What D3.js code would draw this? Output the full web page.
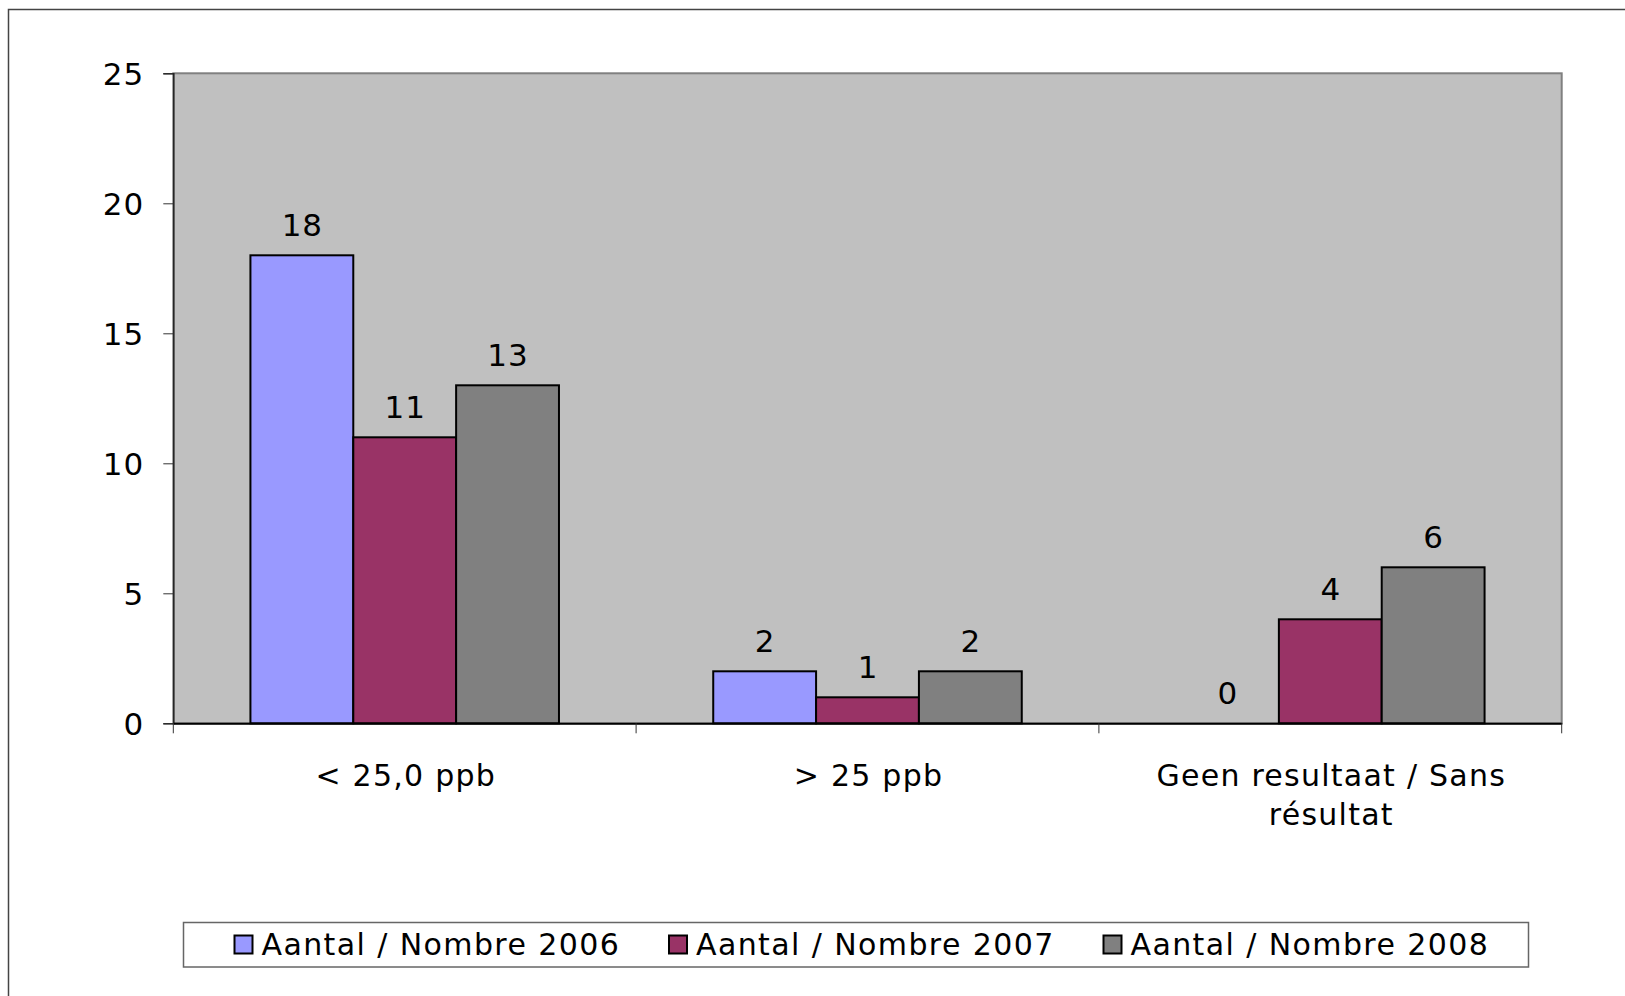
<!DOCTYPE html>
<html>
<head>
<meta charset="utf-8">
<script src="https://cdn.jsdelivr.net/npm/d3@7"></script>
<style>
  html, body { margin: 0; padding: 0; background: #ffffff; }
  svg { display: block; }
  text { font-family: "DejaVu Sans", Verdana, sans-serif; fill: #000; }
</style>
</head>
<body>
<script>
// ---- data ----
const categories = ["< 25,0 ppb", "> 25 ppb", "Geen resultaat / Sans résultat"];
const seriesNames = ["Aantal / Nombre 2006", "Aantal / Nombre 2007", "Aantal / Nombre 2008"];
const values2006 = [18, 2, 0];
const values2007 = [11, 1, 4];
const values2008 = [13, 2, 6];
const seriesColors = ["#9999FF", "#993366", "#808080"];
const yTicks = [0, 5, 10, 15, 20, 25];

const seriesValues = [values2006, values2007, values2008];

const W = 1625, H = 996;
const plot = { left: 173.3, right: 1561.7, top: 73.3, bottom: 723.3 };

const svg = d3.select("body").append("svg").attr("width", W).attr("height", H);

// outer chart border (extends past right/bottom edge)
svg.append("rect")
  .attr("x", 8.5).attr("y", 9.5)
  .attr("width", W + 20).attr("height", H + 20)
  .attr("fill", "#fff").attr("stroke", "#444").attr("stroke-width", 1.5);

const x0 = d3.scaleBand().domain(categories).range([plot.left, plot.right]).paddingInner(0).paddingOuter(0);
const x1 = d3.scaleBand().domain(seriesNames).range([0, x0.bandwidth()]).paddingInner(0).paddingOuter(0.75);
const y = d3.scaleLinear().domain([0, 25]).range([plot.bottom, plot.top]);

// plot area
svg.append("rect")
  .attr("x", plot.left).attr("y", plot.top)
  .attr("width", plot.right - plot.left).attr("height", plot.bottom - plot.top)
  .attr("fill", "#C0C0C0").attr("stroke", "#808080").attr("stroke-width", 2);

// bars
const data = [];
categories.forEach((c, ci) => {
  seriesNames.forEach((s, si) => {
    data.push({ cat: c, series: s, si: si, value: seriesValues[si][ci] });
  });
});

svg.append("g").selectAll("rect")
  .data(data.filter(d => d.value > 0))
  .join("rect")
  .attr("x", d => x0(d.cat) + x1(d.series))
  .attr("y", d => y(d.value))
  .attr("width", x1.bandwidth())
  .attr("height", d => y(0) - y(d.value))
  .attr("fill", d => seriesColors[d.si])
  .attr("stroke", "#000").attr("stroke-width", 2);

// value labels
svg.append("g").selectAll("text")
  .data(data)
  .join("text")
  .attr("x", d => x0(d.cat) + x1(d.series) + x1.bandwidth() / 2 + 0.5)
  .attr("y", d => y(d.value) - 19)
  .attr("text-anchor", "middle")
  .attr("font-size", 31)
  .attr("letter-spacing", 1)
  .text(d => d.value);

// y axis
const yAxis = d3.axisLeft(y).tickValues(yTicks).tickSize(10).tickPadding(19).tickFormat(d3.format("d"));
const gy = svg.append("g").attr("transform", `translate(${plot.left},0)`).call(yAxis);
gy.select(".domain").attr("stroke", "#222").attr("stroke-width", 1.5);
gy.selectAll(".tick line").attr("stroke", "#333").attr("stroke-width", 1);
gy.selectAll(".tick text")
  .attr("font-size", 31).attr("font-family", "DejaVu Sans, Verdana, sans-serif")
  .attr("letter-spacing", 1)
  .attr("fill", "#000").attr("dy", "0.36em");

// x axis
const xAxis = d3.axisBottom(x0).tickSize(0).tickPadding(0).tickFormat("");
const gx = svg.append("g").attr("transform", `translate(0,${plot.bottom})`).call(xAxis);
gx.select(".domain").attr("stroke", "#000").attr("stroke-width", 2);
gx.selectAll(".tick").remove();
// category boundary ticks
const boundaries = categories.map(c => x0(c)).concat([x0(categories[categories.length - 1]) + x0.bandwidth()]);
gx.selectAll("line.bt").data(boundaries).join("line").attr("class", "bt")
  .attr("x1", d => d).attr("x2", d => d).attr("y1", 0).attr("y2", 10)
  .attr("stroke", "#333").attr("stroke-width", 1);

// category labels (wrapped)
const maxW = x0.bandwidth() - 30;
categories.forEach(c => {
  const cx = x0(c) + x0.bandwidth() / 2 + 1;
  const t = svg.append("text")
    .attr("x", cx)
    .attr("y", 786)
    .attr("text-anchor", "middle")
    .attr("font-size", 30)
    .attr("letter-spacing", 1.25);
  const words = c.split(" ");
  let line = [];
  let tspan = t.append("tspan").attr("x", cx).attr("dy", 0);
  words.forEach(w => {
    line.push(w);
    tspan.text(line.join(" "));
    if (tspan.node().getComputedTextLength() > maxW && line.length > 1) {
      line.pop();
      tspan.text(line.join(" "));
      line = [w];
      tspan = t.append("tspan").attr("x", cx).attr("dy", 39).text(w);
    }
  });
});

// legend
svg.append("rect")
  .attr("x", 183.5).attr("y", 922.5).attr("width", 1345).attr("height", 44.5)
  .attr("fill", "#fff").attr("stroke", "#666").attr("stroke-width", 1.5);

const legendX = d3.scalePoint().domain(seriesNames).range([234.5, 1103.5]);
const lg = svg.append("g").selectAll("g").data(seriesNames).join("g")
  .attr("transform", d => `translate(${legendX(d)},0)`);
lg.append("rect")
  .attr("x", 0).attr("y", 935.5).attr("width", 18).attr("height", 18)
  .attr("fill", (d, i) => seriesColors[i]).attr("stroke", "#000").attr("stroke-width", 2);
lg.append("text")
  .attr("x", 27).attr("y", 955)
  .attr("font-size", 30).attr("letter-spacing", 1.4)
  .text(d => d);
</script>
</body>
</html>
